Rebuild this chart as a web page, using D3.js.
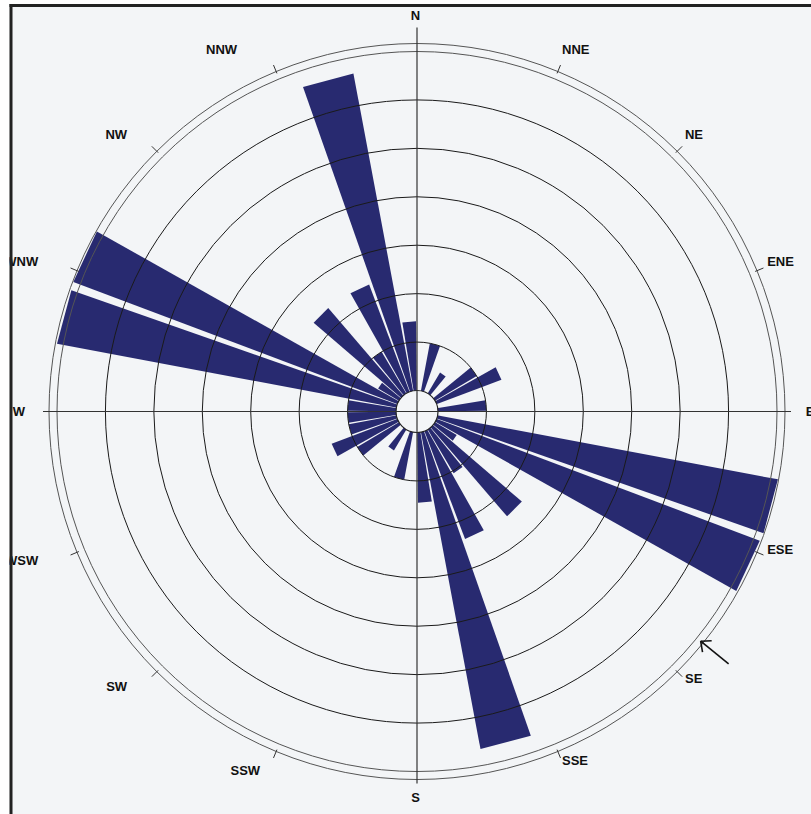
<!DOCTYPE html>
<html>
<head>
<meta charset="utf-8">
<script src="https://cdn.jsdelivr.net/npm/d3@7/dist/d3.min.js"></script>
<style>
  html, body { margin: 0; padding: 0; background: #ffffff; }
  svg { display: block; }
</style>
</head>
<body>
<svg id="chart" width="811" height="814"></svg>
<script>
// ---- data ----
// bin start bearings (degrees clockwise from north), 10-degree bins
const binStart = [0, 10, 20, 30, 40, 50, 60, 70, 80, 90, 100, 110,
                  120, 130, 140, 150, 160, 170, 180, 190, 200, 210, 220, 230,
                  240, 250, 260, 270, 280, 290, 300, 310, 320, 330, 340, 350];
// bar lengths, in ring units
const binValue = [0, 1.0, 0, 0.5, 0, 1.0, 1.43, 0, 1.0, 0, 7.15, 7.13,
                  0.52, 2.42, 1.05, 2.38, 6.66, 1.45, 0, 1.0, 0, 0.5, 0, 1.0,
                  1.45, 1.0, 1.0, 1.0, 7.13, 7.15, 0.5, 2.38, 1.0, 2.37, 6.67, 1.43];
const ringValues = [0, 1, 2, 3, 4, 5, 6, 7];
const compassLabels = ["N", "NNE", "NE", "ENE", "E", "ESE", "SE", "SSE",
                       "S", "SSW", "SW", "WSW", "W", "WNW", "NW", "NNW"];
const compassAngles = [0, 22.5, 45, 67.5, 90, 112.5, 135, 157.5,
                       180, 202.5, 225, 247.5, 270, 292.5, 315, 337.5];
const meanDirection = 129;

// ---- layout ----
const W = 811, H = 814;
const cx = 417, cy = 411.5;
const binWidth = 10, binInset = 0.65;
const barColor = "#282a70";
const bg = "#f3f5f7";

const svg = d3.select("#chart");
const rScale = d3.scaleLinear().domain([0, 7]).range([21, 360]);
const aScale = d3.scaleLinear().domain([0, 360]).range([0, 2 * Math.PI]);
const outerR = rScale(7) + 8;

// background
svg.append("rect").attr("x", 0).attr("y", 0).attr("width", W).attr("height", H).attr("fill", bg);

const g = svg.append("g").attr("transform", `translate(${cx},${cy})`);

// bars
const bins = binStart.map((s, i) => ({ start: s, value: binValue[i] })).filter(d => d.value > 0);
const radial = d3.lineRadial().curve(d3.curveLinearClosed);
g.append("g").selectAll("path").data(bins).join("path")
  .attr("d", d => {
    const R = rScale(d.value);
    const a0 = aScale(d.start + binInset), a1 = aScale(d.start + binWidth - binInset);
    return radial([[a0, 0], [a0, R], [a1, R]]);
  })
  .attr("fill", barColor);

// rings (on top of bars)
g.append("g").selectAll("circle").data(ringValues.slice(1, 7)).join("circle")
  .attr("r", d => rScale(d)).attr("fill", "none")
  .attr("stroke", "#1a1a1a").attr("stroke-width", 1);

// outer double circle
g.append("circle").attr("r", rScale(7)).attr("fill", "none").attr("stroke", "#555").attr("stroke-width", 1);
g.append("circle").attr("r", outerR).attr("fill", "none").attr("stroke", "#555").attr("stroke-width", 1);

// hole
g.append("circle").attr("r", rScale(0)).attr("fill", bg).attr("stroke", "#222").attr("stroke-width", 1.2);

// axes
const axisColor = "#333";
g.append("line").attr("x1", 0).attr("x2", 0).attr("y1", -(outerR + 16)).attr("y2", outerR + 4)
  .attr("stroke", axisColor).attr("stroke-width", 1.2);
g.append("line").attr("y1", 0).attr("y2", 0).attr("x1", -(outerR + 6)).attr("x2", outerR + 6)
  .attr("stroke", axisColor).attr("stroke-width", 1.2);

// ticks on outer circle
const pt = (ang, r) => [r * Math.sin(aScale(ang)), -r * Math.cos(aScale(ang))];
g.append("g").selectAll("line").data(compassAngles.filter(a => a % 90 !== 0)).join("line")
  .attr("x1", d => pt(d, outerR - 2)[0]).attr("y1", d => pt(d, outerR - 2)[1])
  .attr("x2", d => pt(d, outerR + 7)[0]).attr("y2", d => pt(d, outerR + 7)[1])
  .attr("stroke", "#333").attr("stroke-width", 1);

// compass labels
const labelNudgeX = { NNW: -23 };
const labelNudgeY = { ESE: -7 };
const labels = compassLabels.map((t, i) => ({ t, a: compassAngles[i] }));
g.append("g").selectAll("text").data(labels).join("text")
  .text(d => d.t)
  .attr("font-family", "Liberation Sans, Arial, sans-serif")
  .attr("font-weight", "bold")
  .attr("font-size", 13)
  .attr("fill", "#111")
  .attr("dominant-baseline", "central")
  .attr("text-anchor", d => (d.a % 90 === 0) ? "middle" : (d.a < 180 ? "start" : "end"))
  .attr("x", d => {
    const s = Math.sin(aScale(d.a));
    let x;
    if (d.a === 0 || d.a === 180) x = -1.5;
    else if (d.a === 90) x = 393;
    else if (d.a === 270) x = -398;
    else x = d.a < 180 ? s * 379 : s * 410;
    return x + (labelNudgeX[d.t] || 0);
  })
  .attr("y", d => {
    const c = Math.cos(aScale(d.a));
    let y;
    if (d.a === 0) y = -396.5;
    else if (d.a === 180) y = 385.5;
    else if (c >= 0) y = -c * 392;            // upper half
    else y = d.a < 180 ? -c * 378 : -c * 389; // lower right / lower left
    return y + (labelNudgeY[d.t] || 0);
  });

// mean direction arrow
const tip = pt(meanDirection, 365), tail = pt(meanDirection, 401);
const arrowG = g.append("g").attr("stroke", "#111").attr("stroke-width", 1.6).attr("fill", "none");
arrowG.append("line").attr("x1", tail[0]).attr("y1", tail[1]).attr("x2", tip[0]).attr("y2", tip[1]);
const shaftAng = Math.atan2(tail[1] - tip[1], tail[0] - tip[0]);
[-0.72, 0.72].forEach(off => {
  arrowG.append("line")
    .attr("x1", tip[0]).attr("y1", tip[1])
    .attr("x2", tip[0] + 11 * Math.cos(shaftAng + off))
    .attr("y2", tip[1] + 11 * Math.sin(shaftAng + off));
});

// frame: white margin + dark border lines (top and left)
svg.append("rect").attr("x", 0).attr("y", 0).attr("width", 9.5).attr("height", H).attr("fill", "#fff");
svg.append("rect").attr("x", 0).attr("y", 0).attr("width", W).attr("height", 4).attr("fill", "#fff");
svg.append("rect").attr("x", 9.5).attr("y", 4).attr("width", 3).attr("height", H - 4).attr("fill", "#222");
svg.append("rect").attr("x", 9.5).attr("y", 4).attr("width", W - 9.5).attr("height", 3).attr("fill", "#222");
</script>
</body>
</html>
